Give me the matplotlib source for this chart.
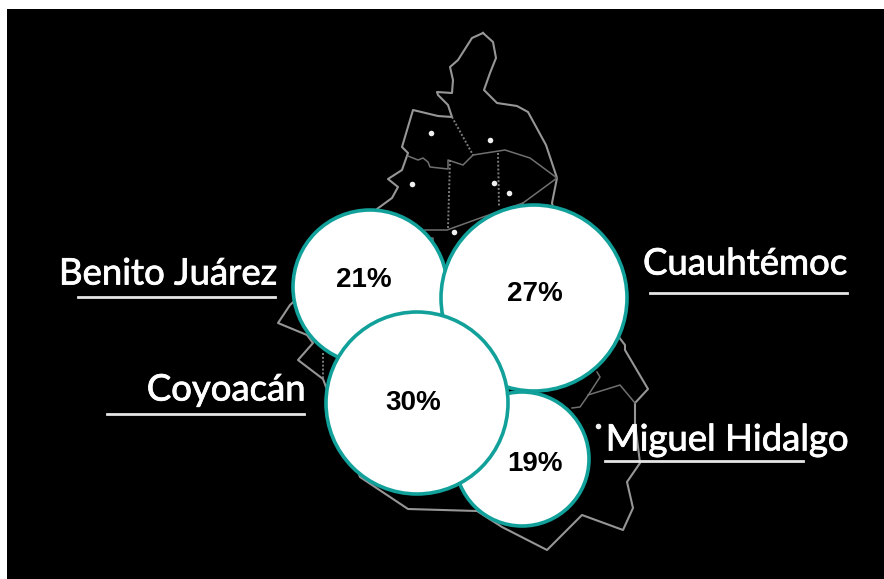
import matplotlib
matplotlib.use("Agg")
import matplotlib.pyplot as plt
import matplotlib.patheffects as pe
from matplotlib.patches import Circle, Rectangle

W, H = 884, 579
names = ["Benito Juárez", "Cuauhtémoc", "Miguel Hidalgo", "Coyoacán"]
shares = ["21%", "27%", "19%", "30%"]
bubble_x = [370, 534, 522, 417]
bubble_y = [287, 298, 459, 403]
bubble_r = [77, 93, 67, 91]
pct_x = [364, 535, 535, 413]
pct_y = [280, 294, 464, 403]
label_x = [168, 745, 727, 226]
label_y = [274, 264, 440, 390]
rule_x0 = [78, 650, 605, 107]
rule_x1 = [275, 847, 803, 304]
rule_y = [297, 293, 461, 414]

outline_x = [483,493,496,490,484,497,517,528,546,557,552,560,590,625,625,648,635,635,640,627,633,623,582,547,502,477,408,360,323,298,313,307,278,290,340,377,392,398,388,402,408,402,413,438,452,448,438,437,452,453,450,458,472,483]
outline_y = [33,42,58,73,90,103,106,112,145,178,203,240,300,345,350,389,403,423,463,482,508,530,515,550,527,511,509,477,379,360,343,335,323,305,260,209,198,187,179,170,153,147,110,116,117,105,95,92,93,80,67,60,38,33]
solid_x = [[473,505,530,557],[408,418,423,428,430,448,448,463,473],[557,523],[425,447,483,523],[597,600,587,580,572],[588,620,635],[428,433,433]]
solid_y = [[155,150,158,178],[156,160,158,162,167,169,160,165,155],[178,203],[230,230,217,203],[372,377,397,407,408],[395,385,403],[238,238,250]]
dotted_x = [[452,473],[450,448],[498,499],[323,323]]
dotted_y = [[117,155],[160,228],[153,207],[353,378]]
dot_x = [431,490,412,494,509,454,598]
dot_y = [133,140,184,183,193,232,426]

fig = plt.figure(figsize=(W/100, H/100), dpi=100, facecolor="white")
ax = fig.add_axes([0, 0, 1, 1])
ax.set_xlim(0, W)
ax.set_ylim(H, 0)
ax.axis("off")
ax.add_patch(Rectangle((7, 9), W-7, H-9, fc="black", ec="none", zorder=0))

line = "#969696"
ax.plot(outline_x, outline_y, color=line, lw=1.5, zorder=1, solid_joinstyle="round")
for xs, ys in zip(solid_x, solid_y):
    ax.plot(xs, ys, color="#707070", lw=1.1, zorder=1)
for xs, ys in zip(dotted_x, dotted_y):
    ax.plot(xs, ys, color="#7d7d7d", lw=1.4, ls=(0, (1, 1)), zorder=1)
ax.scatter(dot_x, dot_y, s=16, color="#f0f0f0", lw=0, zorder=2)

for i, (x, y, r) in enumerate(zip(bubble_x, bubble_y, bubble_r)):
    ax.add_patch(Circle((x, y), r, fc="white", ec="#12a19a", lw=2.6, zorder=3+i))

for i, s in enumerate(shares):
    ax.text(pct_x[i], pct_y[i], s, ha="center", va="center", color="black",
            family="Liberation Sans", weight="bold", fontsize=20, zorder=10)

for i, n in enumerate(names):
    t = ax.text(label_x[i], label_y[i], n, ha="center", va="center", color="white",
                family="Lato", fontsize=26.3, zorder=10)
    t.set_path_effects([pe.withStroke(linewidth=0.6, foreground="white")])
    ax.plot([rule_x0[i], rule_x1[i]], [rule_y[i]]*2, color="#e6e6e6", lw=2, zorder=10)

fig.savefig("out.png", dpi=100, facecolor="white")
